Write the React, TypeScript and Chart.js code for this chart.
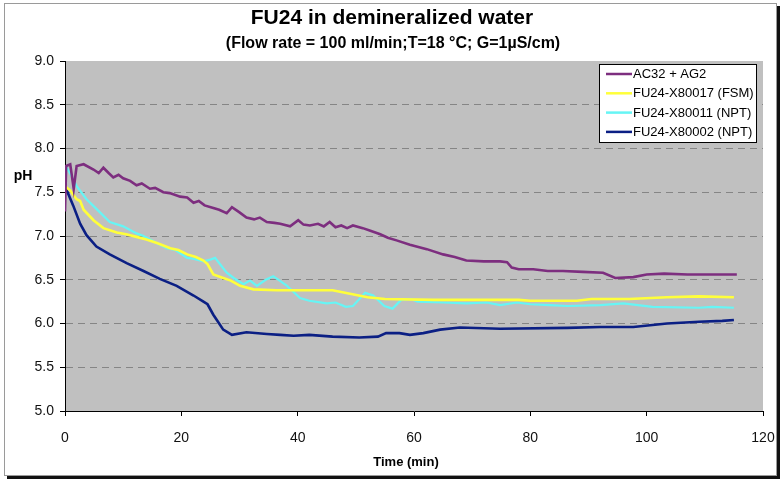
import React, { useEffect, useRef } from "react";
import { Chart, registerables } from "chart.js";

Chart.register(...registerables);

const chartTitle = "FU24 in demineralized water";
const chartSubtitle = "(Flow rate = 100 ml/min;T=18 °C; G=1µS/cm)";
const xAxisTitle = "Time (min)";
const yAxisTitle = "pH";

const seriesNames = ["AC32 + AG2", "FU24-X80017 (FSM)", "FU24-X80011 (NPT)", "FU24-X80002 (NPT)"];
const seriesColors = ["#7D2E7F", "#FFFF3A", "#66F5F5", "#0B1F84"];

const ac32Time = [0, 0.2, 0.9, 1.5, 2.0, 3.2, 4.9, 5.8, 6.6, 7.5, 8.3, 9.2, 10, 11.2, 12.3, 13.2, 14.6, 15.5, 16.9, 18, 19.8, 21, 22.1, 23, 24, 25.5, 26.5, 27.8, 28.7, 30, 31.2, 32.5, 33.5, 34.7, 36, 37, 38.7, 40.1, 41, 42.1, 43.5, 44.5, 45.5, 46.5, 47.5, 48.5, 49.5, 51.2, 52.5, 54.2, 55.5, 57, 59.3, 62.2, 65, 67, 69, 72, 74.8, 76, 76.8, 78, 80.5, 83, 85.6, 89, 92.5, 94.6, 97.7, 100, 103, 107, 111, 115.5];
const ac32PH = [7.28, 7.8, 7.82, 7.54, 7.8, 7.82, 7.76, 7.72, 7.78, 7.72, 7.67, 7.7, 7.66, 7.63, 7.58, 7.6, 7.54, 7.55, 7.5, 7.49, 7.45, 7.44, 7.38, 7.4, 7.35, 7.32, 7.3, 7.26, 7.33, 7.27, 7.21, 7.19, 7.21, 7.16, 7.15, 7.14, 7.11, 7.18, 7.13, 7.12, 7.14, 7.11, 7.16, 7.1, 7.12, 7.09, 7.12, 7.09, 7.06, 7.02, 6.98, 6.95, 6.9, 6.85, 6.79, 6.76, 6.72, 6.71, 6.71, 6.7, 6.64, 6.62, 6.62, 6.6, 6.6, 6.59, 6.58, 6.52, 6.53, 6.56, 6.57, 6.56, 6.56, 6.56];

const fsmTime = [0, 0.9, 2.0, 2.6, 3.2, 4.9, 6.6, 8.9, 10.5, 12.3, 14, 15.8, 18.1, 19.5, 21, 22.5, 23.8, 24.5, 25.5, 27.2, 28.5, 30.1, 32.4, 36.4, 40.4, 46, 49, 52, 55, 63.4, 78, 80, 88, 90.5, 97, 103.5, 109, 115];
const fsmPH = [7.57, 7.52, 7.42, 7.4, 7.3, 7.18, 7.09, 7.04, 7.02, 6.99, 6.96, 6.92, 6.86, 6.84, 6.79, 6.76, 6.72, 6.68, 6.56, 6.52, 6.49, 6.43, 6.39, 6.38, 6.38, 6.38, 6.34, 6.3, 6.28, 6.27, 6.27, 6.26, 6.26, 6.28, 6.28, 6.3, 6.31, 6.3];

const npt11Time = [0, 0.3, 1, 2, 3.7, 5.4, 7.7, 10, 12.3, 13.5, 15.2, 17.5, 19, 21, 22, 23.8, 25, 25.8, 27.8, 29, 30.7, 31.8, 33, 34.5, 35.8, 36.9, 38, 39.3, 40.4, 42, 45, 46.5, 48.3, 49.5, 51.6, 53, 54.9, 56.3, 57.8, 59.5, 60.6, 65, 69, 72.5, 74.8, 77.7, 80, 83.4, 86.4, 92, 96, 101, 109, 111.3, 115];
const npt11PH = [7.72, 7.78, 7.7, 7.57, 7.42, 7.31, 7.16, 7.11, 7.03, 7.0, 6.94, 6.86, 6.84, 6.75, 6.74, 6.71, 6.73, 6.75, 6.58, 6.52, 6.45, 6.49, 6.43, 6.5, 6.54, 6.49, 6.44, 6.36, 6.29, 6.26, 6.23, 6.24, 6.19, 6.2, 6.35, 6.32, 6.2, 6.17, 6.27, 6.28, 6.25, 6.24, 6.23, 6.24, 6.21, 6.24, 6.22, 6.21, 6.2, 6.21, 6.23, 6.19, 6.18, 6.19, 6.18];

const npt02Time = [0, 1.4, 2.6, 3.7, 5.4, 7.7, 10.6, 13.5, 16.3, 19.2, 22.1, 23.8, 24.5, 25.5, 26.5, 27.2, 28.7, 31.2, 34.7, 37, 39.3, 42, 46, 50.6, 53.8, 55.2, 57.5, 59.3, 61.6, 64.5, 67.9, 74.8, 86.4, 92, 97.7, 103.5, 109, 113, 115];
const npt02PH = [7.57, 7.35, 7.14, 7.01, 6.88, 6.79, 6.69, 6.6, 6.51, 6.43, 6.32, 6.25, 6.22, 6.1, 6.0, 5.93, 5.87, 5.9, 5.88, 5.87, 5.86, 5.87, 5.85, 5.84, 5.85, 5.89, 5.89, 5.87, 5.89, 5.93, 5.955, 5.94, 5.95, 5.96, 5.96, 6.0, 6.02, 6.03, 6.04];

const xTicks = [0, 20, 40, 60, 80, 100, 120];
const yTicks = [5.0, 5.5, 6.0, 6.5, 7.0, 7.5, 8.0, 8.5, 9.0];

const seriesTimes = [ac32Time, fsmTime, npt11Time, npt02Time];
const seriesValues = [ac32PH, fsmPH, npt11PH, npt02PH];

const FONT = "'Liberation Sans', Arial, sans-serif";

const decorPlugin = {
  id: "decor",
  beforeDraw(chart: any) {
    const { ctx, chartArea } = chart;
    ctx.save();
    ctx.fillStyle = "#ffffff";
    ctx.fillRect(0, 0, chart.width, chart.height);
    ctx.strokeStyle = "#9a9a9a";
    ctx.lineWidth = 1;
    ctx.strokeRect(4.5, 3.5, 772, 472);
    ctx.fillStyle = "#111111";
    ctx.fillRect(777, 6, 3, 473);
    ctx.fillRect(7, 476, 773, 3);
    ctx.fillStyle = "#C0C0C0";
    ctx.fillRect(chartArea.left, chartArea.top, chartArea.right - chartArea.left, chartArea.bottom - chartArea.top);
    ctx.restore();
  },
  afterDraw(chart: any) {
    const { ctx } = chart;
    ctx.save();
    ctx.fillStyle = "#000";
    ctx.textAlign = "center";
    ctx.textBaseline = "middle";
    ctx.font = `bold 21px ${FONT}`;
    ctx.fillText(chartTitle, 392, 18);
    ctx.font = `bold 16px ${FONT}`;
    ctx.fillText(chartSubtitle, 393, 44);
    ctx.font = `bold 13px ${FONT}`;
    ctx.fillText(xAxisTitle, 406, 462);
    ctx.font = `bold 14px ${FONT}`;
    ctx.fillText(yAxisTitle, 23, 176);

    const lx = 599, ly = 64, lw = 157, lh = 78;
    ctx.fillStyle = "#ffffff";
    ctx.fillRect(lx, ly, lw, lh);
    ctx.strokeStyle = "#000";
    ctx.lineWidth = 1;
    ctx.strokeRect(lx + 0.5, ly + 0.5, lw, lh);
    ctx.font = `13px ${FONT}`;
    ctx.textAlign = "left";
    seriesNames.forEach((name, i) => {
      const y = ly + 10 + i * 19.3;
      ctx.strokeStyle = seriesColors[i];
      ctx.lineWidth = 2.5;
      ctx.beginPath();
      ctx.moveTo(606, y);
      ctx.lineTo(632, y);
      ctx.stroke();
      ctx.fillStyle = "#000";
      ctx.fillText(name, 633, y + 0.5);
    });
    ctx.restore();
  },
};

export default function App() {
  const ref = useRef<HTMLCanvasElement | null>(null);
  useEffect(() => {
    if (!ref.current) return;
    const datasets = seriesNames.map((name, i) => ({
      label: name,
      data: seriesTimes[i].map((t, j) => ({ x: t, y: seriesValues[i][j] })),
      borderColor: seriesColors[i],
      backgroundColor: seriesColors[i],
      borderWidth: i === 2 ? 2.2 : 2.6,
      pointRadius: 0,
      tension: 0,
      fill: false,
    }));
    const chart = new Chart(ref.current, {
      type: "line",
      data: { datasets },
      plugins: [decorPlugin],
      options: {
        responsive: false,
        animation: false,
        layout: { padding: { left: 0, top: 61, right: 20, bottom: 0 } },
        plugins: { legend: { display: false }, title: { display: false }, tooltip: { enabled: false } },
        scales: {
          x: {
            type: "linear",
            min: 0,
            max: 120,
            afterBuildTicks: (s: any) => { s.ticks = xTicks.map((v) => ({ value: v })); },
            afterFit: (s: any) => { s.height = 72; s.paddingRight = 0; },
            ticks: { font: { family: FONT, size: 14 }, color: "#111", padding: 14, maxRotation: 0 },
            grid: { drawOnChartArea: false, drawTicks: true, tickLength: 5, tickColor: "#000" },
            border: { color: "#000", width: 1 },
          },
          y: {
            type: "linear",
            min: 5,
            max: 9,
            afterBuildTicks: (s: any) => { s.ticks = yTicks.map((v) => ({ value: v })); },
            afterFit: (s: any) => { s.width = 65; },
            ticks: { font: { family: FONT, size: 14 }, color: "#111", padding: 6, callback: (v: any) => Number(v).toFixed(1) },
            grid: {
              color: (c: any) => (c.tick && (c.tick.value === 9 || c.tick.value === 5) ? "rgba(0,0,0,0)" : "#858585"),
              tickColor: "#000",
              tickLength: 5,
              lineWidth: 1,
            },
            border: { color: "#000", width: 1, dash: [7, 5] },
          },
        },
      },
    } as any);
    return () => chart.destroy();
  }, []);
  return (
    <div style={{ position: "absolute", left: 0, top: 0, width: 783, height: 483 }}>
      <canvas ref={ref} width={783} height={483} style={{ display: "block" }} />
    </div>
  );
}
